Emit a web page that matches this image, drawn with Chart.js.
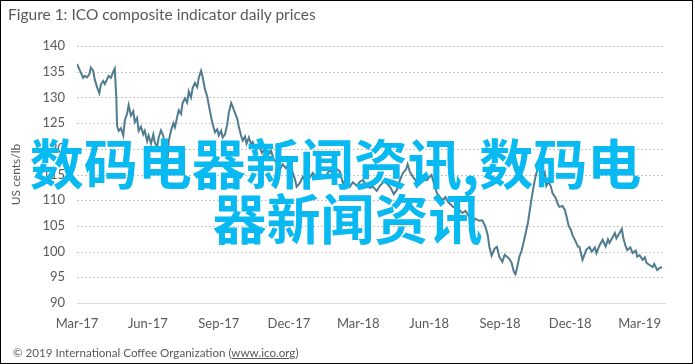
<!DOCTYPE html>
<html>
<head>
<meta charset="utf-8">
<script src="https://cdn.jsdelivr.net/npm/chart.js@4.4.1/dist/chart.umd.min.js"></script>
<style>
  html, body { margin: 0; padding: 0; background: #fff; }
  body { width: 695px; height: 364px; position: relative; overflow: hidden; }
  #frame { position: absolute; left: 0; top: 0; width: 691px; height: 362px; border: 1px solid #000; box-sizing: content-box; }
  #title { position: absolute; left: 8px; top: 5px; font-family: Lato, "Open Sans", sans-serif; font-size: 15.5px; color: #595959; white-space: nowrap; }
  #footer { position: absolute; left: 13px; top: 346px; font-family: Lato, "Open Sans", sans-serif; font-size: 11.6px; color: #595959; white-space: nowrap; }
  #footer u { text-decoration: underline; }
  #wrap { position: absolute; left: 0; top: 0; width: 695px; height: 364px; }
  #wm { position: absolute; left: -12px; top: 134px; width: 695px; text-align: center; font-family: "Noto Sans CJK SC", sans-serif; font-weight: 700; font-size: 54px; line-height: 55px; color: #08b9f2; pointer-events: none; white-space: nowrap; }
  #wm span { display: inline-block; }
  #wm .l2 { position: relative; left: 12px; }
</style>
</head>
<body>
<div id="wrap"><canvas id="c" width="695" height="364"></canvas></div>
<div id="title">Figure 1: ICO composite indicator daily prices</div>
<div id="footer">© 2019 International Coffee Organization (<u>www.ico.org</u>)</div>
<div id="wm"><span>数码电器新闻资讯,数码电</span><br><span class="l2">器新闻资讯</span></div>
<div id="frame"></div>
<script>
// Days since 1 March 2017
const dayOffsets = [0,3,5,8,10,13,16,18,21,23,26,29,31,34,36,39,41,44,47,49,51,52,54,57,60,62,65,67,70,73,75,78,80,83,86,88,91,93,96,99,101,104,106,109,112,114,117,119,122,125,127,130,132,135,137,140,143,145,148,150,153,156,158,161,163,166,169,171,174,176,179,182,184,187,189,192,195,197,200,202,205,208,210,213,215,218,220,223,226,228,232,236,240,244,248,252,255,259,263,267,271,275,279,283,285,289,293,297,301,306,310,315,320,324,328,332,336,341,345,349,354,358,363,367,371,375,380,384,389,393,398,402,407,411,415,419,423,427,429,432,436,440,445,449,454,458,460,464,467,471,475,478,482,488,493,497,500,504,510,513,517,522,526,530,533,535,538,542,545,548,552,555,558,561,564,567,569,572,574,577,581,585,587,590,594,596,599,602,604,607,609,612,615,617,621,624,626,630,633,635,638,641,643,647,650,652,656,659,661,665,668,672,674,678,682,686,689,691,695,698,700,704,707,709,712,714,718,721,725,727,730,734,737,739,743,747,749,753,756,759];
// ICO composite indicator, US cents/lb
const prices = [136.5,135.5,134.8,133.8,134.2,133.9,134.5,135.8,135.2,133.5,132.0,130.8,132.5,133.2,132.6,133.5,134.2,133.8,135.0,135.6,130.0,124.5,123.5,124.0,122.6,125.5,126.8,128.5,126.5,127.3,125.2,126.0,123.5,124.3,122.8,123.5,121.5,122.6,121.0,122.8,121.2,120.4,122.2,123.6,122.5,120.5,116.5,121.5,123.5,125.0,124.2,126.2,127.5,126.8,128.9,129.8,129.0,131.2,130.0,131.8,132.8,132.0,133.8,135.2,134.0,131.6,130.2,128.5,126.2,124.8,123.2,123.8,122.6,123.5,122.2,122.8,124.8,127.0,128.9,128.2,127.0,125.8,124.3,122.5,121.6,122.4,121.0,122.2,120.8,121.3,119.8,120.6,119.2,120.0,118.8,119.6,118.0,117.3,115.9,117.0,116.2,117.2,115.8,114.0,112.6,113.3,114.5,113.6,114.2,115.3,114.6,115.2,114.4,115.0,115.9,115.2,116.2,115.6,113.3,114.0,112.6,113.5,112.8,113.6,113.9,113.0,112.4,112.6,111.8,112.8,113.6,113.3,112.4,111.2,112.0,113.9,115.3,116.0,117.0,115.5,114.5,113.8,113.3,114.0,113.9,114.6,114.9,112.8,111.4,110.6,110.0,110.6,109.6,108.7,108.4,108.0,107.5,107.9,106.6,105.6,106.4,106.0,106.1,104.8,103.2,101.0,99.2,100.6,100.9,99.0,98.0,99.4,99.0,98.6,97.8,96.0,95.6,97.5,99.0,100.2,102.8,105.5,107.5,110.5,113.9,115.2,116.5,115.0,114.5,115.4,112.8,113.6,112.6,111.4,110.5,109.2,108.7,108.9,108.1,107.0,105.0,104.2,103.2,102.0,101.0,100.9,98.4,99.6,100.4,100.9,100.0,100.8,99.7,101.2,102.3,101.0,102.4,101.7,102.8,103.6,102.6,103.6,104.4,102.6,101.0,100.3,100.8,99.7,100.2,99.0,99.3,98.4,98.9,97.8,97.4,97.0,97.6,96.4,96.8,97.0];
// Quarterly x-axis tick labels and their day offsets
const xTickLabels = ['Mar-17','Jun-17','Sep-17','Dec-17','Mar-18','Jun-18','Sep-18','Dec-18','Mar-19'];
const xTickDays = [0,92,184,275,365,457,549,640,730];
const yTicks = [90,95,100,105,110,115,120,125,130,135,140];

const points = dayOffsets.map((d, i) => ({x: d, y: prices[i]}));
const tickFont = {family: 'Lato, "Open Sans", sans-serif', size: 13};

// Dotted horizontal gridlines drawn at the y scale's tick positions
const dottedGrid = {
  id: 'dottedGrid',
  beforeDatasetsDraw(chart) {
    const {ctx, chartArea: a, scales: {y}} = chart;
    ctx.save();
    ctx.strokeStyle = '#c6c6c6';
    ctx.lineWidth = 1;
    ctx.setLineDash([2, 2]);
    y.ticks.forEach(t => {
      if (t.value === 90) return;
      const py = Math.round(y.getPixelForValue(t.value)) + 0.5;
      ctx.beginPath(); ctx.moveTo(a.left, py); ctx.lineTo(a.right, py); ctx.stroke();
    });
    ctx.restore();
  }
};

new Chart(document.getElementById('c'), {
  type: 'line',
  data: { datasets: [{ data: points, borderColor: '#4f7c8f', borderWidth: 2, pointRadius: 0, tension: 0, fill: false }] },
  options: {
    responsive: false, animation: false, devicePixelRatio: 1,
    layout: { padding: { left: 9, right: 30, top: 46, bottom: 0 } },
    plugins: { legend: { display: false }, tooltip: { enabled: false } },
    scales: {
      x: {
        type: 'linear', min: 0, max: 763,
        afterBuildTicks: (s) => { s.ticks = xTickDays.map(v => ({value: v})); },
        afterFit: (s) => { s.height = 61; },
        ticks: { autoSkip: false, maxRotation: 0, padding: 13, color: '#595959', font: tickFont,
          callback: (v) => { const i = xTickDays.indexOf(v); return i >= 0 ? xTickLabels[i] : ''; } },
        grid: { display: false, drawTicks: false },
        border: { display: true, color: '#d9d9d9', width: 1 }
      },
      y: {
        min: 90, max: 140,
        afterBuildTicks: (s) => { s.ticks = yTicks.map(v => ({value: v})); },
        afterFit: (s) => { s.width = 68; },
        ticks: { padding: 12, color: '#595959', font: tickFont },
        grid: { display: false, drawTicks: false },
        border: { display: false },
        title: { display: true, text: 'US cents/lb', color: '#595959', font: {family: 'Lato, "Open Sans", sans-serif', size: 12}, padding: {top: 0, bottom: 0} }
      }
    }
  },
  plugins: [dottedGrid]
});
</script>
</body>
</html>
